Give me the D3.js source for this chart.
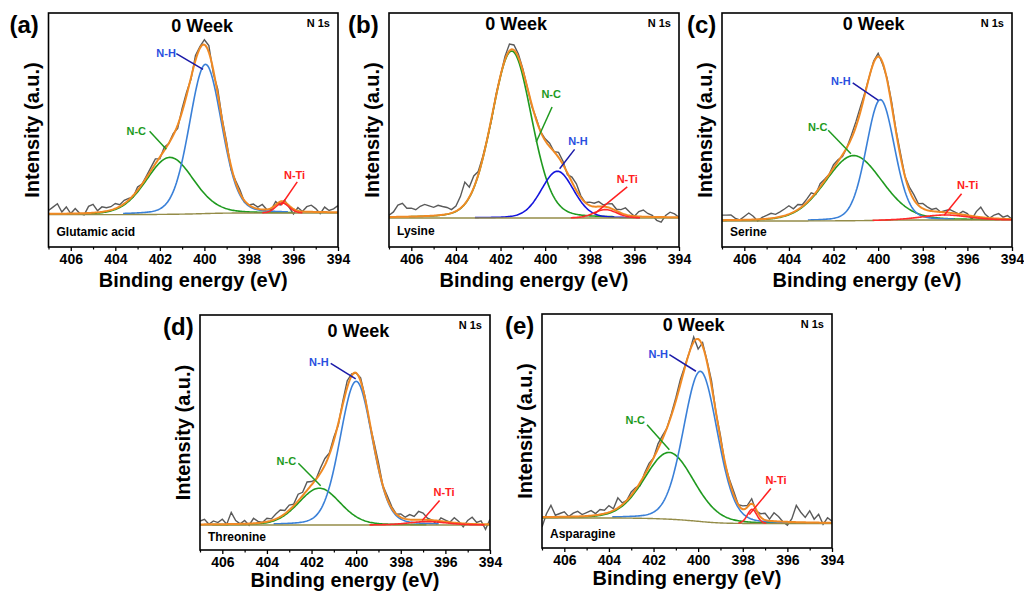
<!DOCTYPE html>
<html>
<head>
<meta charset="utf-8">
<script src="https://cdn.jsdelivr.net/npm/d3@7"></script>
<style>
  body { margin: 0; background: #fff; }
  svg { display: block; font-family: "Liberation Sans", Arial, sans-serif; font-weight: bold; }
</style>
</head>
<body>
<svg id="chart" width="1024" height="600"></svg>
<script>
// ---- data ----
const panelTags   = ["(a)", "(b)", "(c)", "(d)", "(e)"]
const sampleNames = ["Glutamic acid", "Lysine", "Serine", "Threonine", "Asparagine"]
const weekLabel   = "0 Week"
const coreLevel   = "N 1s"
const xTicks      = [406, 404, 402, 400, 398, 396, 394]
const xMinor      = [407, 405, 403, 401, 399, 397, 395]

// fitted peaks (centre eV, height, FWHM eV), one entry per panel a..e
const nhCenter  = [399.95, 399.45, 399.9, 400.0, 399.9]
const nhHeight  = [0.894, 0.28, 0.723, 0.86, 0.90]
const nhFwhm    = [1.7, 1.7, 1.5, 1.7, 1.8]
const ncCenter  = [401.55, 401.5, 401.1, 401.65, 401.3]
const ncHeight  = [0.341, 1.0, 0.39, 0.22, 0.40]
const ncFwhm    = [2.5, 2.1, 3.0, 2.2, 2.6]
const ntiCenter = [396.5, 397.3, 397.0, 396.8, 397.58]
const ntiHeight = [0.06, 0.05, 0.03, 0.02, 0.085]
const ntiFwhm   = [0.7, 1.2, 2.5, 2.0, 0.5]
const bgHigh    = [-0.01, 0, -0.006, 0, 0.034]   // background level at 407 eV
const bgLow     = [0, 0, 0, 0, 0]                // background level at 394 eV

// measured spectrum minus fit envelope, every 0.2 eV from 407 down to 394
const residA = [0.02,0.04,0.06,0.01,0.04,0.00,0.03,0.00,-0.01,0.04,0.05,0.01,0.03,0.02,
  0.02,0.03,0.01,0.02,0.01,-0.01,0.02,0.00,0.01,0.02,0.03,-0.01,0.02,0.00,0.01,-0.02,0.02,
  0.02,-0.01,0.03,0.01,0.03,0.04,-0.02,0.03,0.01,0.02,-0.02,0.01,0.02,-0.01,0.00,0.02,0.01,0.03,0.00,-0.01,
  0.02,-0.02,0.01,-0.01,-0.03,0.02,0.00,0.03,0.04,0.02,-0.01,0.03,0.01,0.02,0.04]
const residB = [0.01,0.03,0.07,0.08,0.05,0.05,0.04,0.06,0.07,0.06,0.05,0.06,0.05,0.04,0.02,0.03,0.07,0.13,0.06,0.07,
  0.02,0.01,0.00,-0.01,0.01,0.00,0.02,0.04,0.03,0.02,0.01,
  0.00,-0.01,0.01,0.00,0.01,0.02,0.00,0.03,0.02,-0.01,0.03,0.04,0.01,0.00,0.02,
  0.02,0.03,0.01,0.02,0.03,0.01,0.02,0.04,0.02,0.00,0.03,0.04,0.02,0.01,-0.02,-0.03,0.01,0.03,0.02,0.00]
const residC = [0.03,0.03,0.03,0.01,0.00,0.02,0.04,0.02,-0.01,0.01,
  0.02,0.03,0.02,0.03,0.04,0.05,0.02,0.03,0.01,0.02,
  0.03,-0.01,0.02,0.01,0.00,0.02,0.01,-0.01,0.00,0.02,
  0.03,0.03,0.01,0.00,0.01,0.02,-0.01,0.01,0.02,0.01,
  0.02,0.00,0.02,0.03,0.01,0.03,0.02,0.01,0.02,0.00,
  0.01,0.02,0.01,0.00,0.02,0.01,-0.02,0.03,0.06,0.02,
  0.00,0.02,0.03,0.01,0.02,0.00]
const residD = [0.02,0.03,0.00,0.02,0.01,0.03,0.00,0.07,0.02,0.00,
  0.02,-0.01,0.03,0.01,0.00,0.02,0.01,0.03,0.04,0.02,
  0.03,0.01,0.04,0.02,0.05,0.02,0.00,0.03,0.04,0.01,
  0.02,-0.01,0.02,0.04,0.01,0.00,0.02,0.01,-0.01,0.02,
  0.03,0.00,0.02,0.01,0.00,0.02,0.01,0.03,0.02,0.05,
  0.04,0.01,0.00,-0.02,0.02,0.01,0.00,0.03,0.01,-0.02,
  0.02,0.04,0.01,0.02,-0.03,0.03]
const residE = [-0.06,0.02,0.07,0.01,0.02,0.03,0.00,0.02,0.03,0.01,
  0.02,0.03,0.01,0.03,0.02,0.04,0.01,0.06,0.01,0.00,
  0.02,0.01,-0.02,0.01,0.02,0.00,0.03,0.02,0.00,0.01,
  0.02,0.03,0.01,0.00,0.03,-0.06,0.02,0.01,0.03,0.00,
  0.02,-0.01,0.01,0.02,0.00,0.02,0.01,0.03,-0.01,0.02,
  0.04,0.01,0.05,0.03,0.00,-0.02,0.02,0.10,0.06,0.03,
  0.07,0.02,0.05,-0.01,0.03,0.01]
const residuals = [residA, residB, residC, residD, residE]

// ---- layout ----
let boxes = [
  {x: 48.5, y: 13,  w: 289.5, h: 234, yMin: -0.204, yMax: 1.198, titleE: 400.1, titleDy: 19, tagDx: -39, nameDy: -11, axDy: 40},
  {x: 389,  y: 13,  w: 290,   h: 234, yMin: -0.174, yMax: 1.228, titleE: 401.3, titleDy: 17, tagDx: -41, nameDy: -12, axDy: 40},
  {x: 722,  y: 13,  w: 290,   h: 234, yMin: -0.162, yMax: 1.240, titleE: 400.2, titleDy: 17, tagDx: -35, nameDy: -11, axDy: 40},
  {x: 200,  y: 315, w: 290,   h: 235, yMin: -0.150, yMax: 1.257, titleE: 399.9, titleDy: 22, tagDx: -37, nameDy: -9,  axDy: 37},
  {x: 542,  y: 314, w: 290,   h: 234, yMin: -0.146, yMax: 1.256, titleE: 400.2, titleDy: 17, tagDx: -37, nameDy: -10, axDy: 37}
]

// label [E, I], leader start [E, I], leader end [E, I] for N-H, N-C, N-Ti
let notes = [
  [[401.72, 0.96, 401.26, 0.954, 400.06, 0.86], [403.06, 0.491, 402.46, 0.489, 401.71, 0.381], [395.95, 0.226, 395.83, 0.186, 396.55, 0.046]],
  [[398.53, 0.459, 398.68, 0.411, 399.35, 0.295], [399.73, 0.744, 399.69, 0.665, 400.40, 0.455], [396.32, 0.235, 396.32, 0.186, 397.78, 0.026]],
  [[401.67, 0.831, 401.14, 0.822, 399.99, 0.717], [402.71, 0.557, 402.24, 0.537, 401.22, 0.397], [395.99, 0.211, 396.26, 0.157, 397.04, 0.028]],
  [[401.67, 0.974, 401.14, 0.968, 400.02, 0.874], [403.13, 0.381, 402.59, 0.369, 401.59, 0.235], [396.06, 0.196, 396.26, 0.146, 397.04, 0.026]],
  [[401.79, 1.018, 401.29, 1.012, 400.10, 0.913], [402.82, 0.619, 402.29, 0.593, 401.29, 0.443], [396.51, 0.263, 396.74, 0.21, 397.71, 0.054]]
]

let compNames  = ["N-H", "N-C", "N-Ti"]
let textColors = ["#2a4fe0", "#1e9a1e", "#ff2020"]
let leadColors = ["#1a1aa8", "#1e9a1e", "#ff2020"]

let svg = d3.select("#chart")

// pseudo-Voigt line shape used by the fit
let pv = (E, c, h, f) => {
  let r = (E - c) / f
  return h * (0.85 * Math.exp(-4 * Math.LN2 * r * r) + 0.15 / (1 + 4 * r * r))
}

let fine = d3.range(0, 261).map(i => 407 - i * 0.05)

boxes.forEach((b, p) => {
  let xScale = d3.scaleLinear().domain([407, 394]).range([b.x, b.x + b.w])
  let yScale = d3.scaleLinear().domain([b.yMin, b.yMax]).range([b.y + b.h, b.y])

  let peaks = [
    {c: nhCenter[p],  h: nhHeight[p],  f: nhFwhm[p]},
    {c: ncCenter[p],  h: ncHeight[p],  f: ncFwhm[p]},
    {c: ntiCenter[p], h: ntiHeight[p], f: ntiFwhm[p]}
  ]

  // Shirley-like background from cumulative peak area
  let sums = fine.map(E => d3.sum(peaks, k => pv(E, k.c, k.h, k.f)))
  let cum = new Array(fine.length)
  let acc = 0
  for (let j = fine.length - 1; j >= 0; j--) { acc += sums[j]; cum[j] = acc }
  let bg = cum.map(v => bgLow[p] + (bgHigh[p] - bgLow[p]) * v / acc)

  let g = svg.append("g")
  let clipId = "clip" + p
  g.append("clipPath").attr("id", clipId)
    .append("rect").attr("x", b.x).attr("y", b.y).attr("width", b.w).attr("height", b.h)

  let plot = g.append("g").attr("clip-path", "url(#" + clipId + ")")
  let line = d3.line().x(d => xScale(d[0])).y(d => yScale(d[1]))

  // measured data
  let raw = residuals[p].map((r, i) => [fine[i * 4], bg[i * 4] + sums[i * 4] + r])
  plot.append("path").attr("d", line(raw))
    .attr("fill", "none").attr("stroke", "#5a5a5a").attr("stroke-width", 1.4)

  let compColors = [p == 1 ? "#1414dc" : "#3a80d8", "#1f9a1f", "#ff2a2a"]
  let drawComp = (k, span) => {
    let pts = fine.map((E, j) => [E, bg[j] + pv(E, peaks[k].c, peaks[k].h, peaks[k].f)])
      .filter(d => Math.abs(d[0] - peaks[k].c) <= span * peaks[k].f)
    plot.append("path").attr("d", line(pts))
      .attr("fill", "none").attr("stroke", compColors[k]).attr("stroke-width", 1.6)
  }
  drawComp(1, 2.2)
  drawComp(0, 2.2)

  // background
  plot.append("path").attr("d", line(fine.map((E, j) => [E, bg[j]])))
    .attr("fill", "none").attr("stroke", "#948c48").attr("stroke-width", 1.4)

  // envelope
  plot.append("path").attr("d", line(fine.map((E, j) => [E, bg[j] + sums[j]])))
    .attr("fill", "none").attr("stroke", "#f08a24").attr("stroke-width", 2)

  drawComp(2, 1.3)

  // frame
  g.append("rect").attr("x", b.x).attr("y", b.y).attr("width", b.w).attr("height", b.h)
    .attr("fill", "none").attr("stroke", "#000").attr("stroke-width", 1.6)

  // x axis
  let ax = g.append("g").attr("transform", "translate(0," + (b.y + b.h) + ")")
    .call(d3.axisBottom(xScale).tickValues(xTicks).tickSize(4).tickPadding(3).tickFormat(d3.format("d")))
  ax.select(".domain").remove()
  ax.selectAll("line").attr("stroke-width", 1.3)
  ax.selectAll("text").style("font-size", "14px").style("font-weight", "bold")
    .style("font-family", "'Liberation Sans', Arial, sans-serif").attr("fill", "#000")
  g.append("g").attr("transform", "translate(0," + (b.y + b.h) + ")")
    .call(d3.axisBottom(xScale).tickValues(xMinor).tickSize(2.5).tickFormat(""))
    .call(s => s.select(".domain").remove())
    .selectAll("line").attr("stroke-width", 1.2)

  g.append("text").text("Binding energy (eV)")
    .attr("x", b.x + b.w / 2).attr("y", b.y + b.h + b.axDy)
    .attr("text-anchor", "middle").style("font-size", "20px")

  g.append("text").text("Intensity (a.u.)")
    .attr("transform", "translate(" + (b.x - 10) + "," + (b.y + b.h / 2) + ") rotate(-90)")
    .attr("text-anchor", "middle").style("font-size", "20px")

  g.append("text").text(panelTags[p])
    .attr("x", b.x + b.tagDx).attr("y", b.y + 20).style("font-size", "24px")

  g.append("text").text(weekLabel)
    .attr("x", xScale(b.titleE)).attr("y", b.y + b.titleDy)
    .attr("text-anchor", "middle").style("font-size", "18px")

  g.append("text").text(coreLevel)
    .attr("x", b.x + b.w - 8).attr("y", b.y + 14)
    .attr("text-anchor", "end").style("font-size", "11px")

  g.append("text").text(sampleNames[p])
    .attr("x", b.x + 8).attr("y", b.y + b.h + b.nameDy).style("font-size", "12px")

  // component labels with leader lines
  notes[p].forEach((n, k) => {
    g.append("line")
      .attr("x1", xScale(n[2])).attr("y1", yScale(n[3]))
      .attr("x2", xScale(n[4])).attr("y2", yScale(n[5]))
      .attr("stroke", leadColors[k]).attr("stroke-width", 1.5)
    g.append("text").text(compNames[k])
      .attr("x", xScale(n[0])).attr("y", yScale(n[1])).attr("dy", "0.35em")
      .attr("text-anchor", "middle").attr("fill", textColors[k]).style("font-size", "11px")
  })
})
</script>
</body>
</html>
